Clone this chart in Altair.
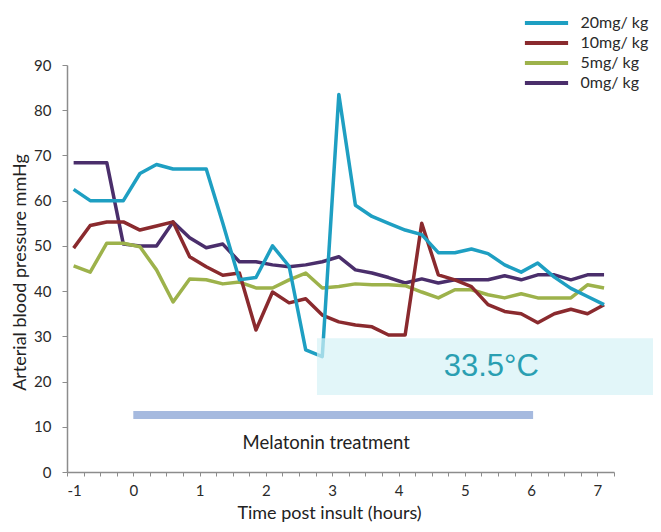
import altair as alt
import pandas as pd

# sample times (hours post insult)
times = [-0.9, -0.65, -0.4, -0.15, 0.1, 0.35, 0.6, 0.85, 1.1, 1.35, 1.6, 1.85,
         2.1, 2.35, 2.6, 2.85, 3.1, 3.35, 3.6, 3.85, 4.1, 4.35, 4.6, 4.85,
         5.1, 5.35, 5.6, 5.85, 6.1, 6.35, 6.6, 6.85, 7.1]

mg20 = [62.5, 60, 60, 60, 66, 68, 67, 67, 67, 55, 42.5, 43, 50, 45.5, 27, 25.5,
        83.5, 59, 56.5, 55, 53.5, 52.5, 48.5, 48.5, 49.3, 48.3, 45.8, 44.2, 46.2,
        43.1, 40.6, 38.8, 37]
mg10 = [49.5, 54.5, 55.3, 55.3, 53.5, 54.4, 55.3, 47.6, 45.4, 43.5, 44, 31.4,
        39.8, 37.4, 38.3, 34.7, 33.2, 32.5, 32.1, 30.3, 30.3, 55, 43.6, 42.5,
        41, 37, 35.5, 35, 33, 35, 36, 35, 37]
mg5 = [45.6, 44.2, 50.6, 50.6, 49.8, 44.7, 37.6, 42.7, 42.5, 41.6, 42, 40.7,
       40.7, 42.5, 44, 40.7, 41, 41.6, 41.4, 41.4, 41.2, 39.8, 38.5, 40.3,
       40.3, 39.2, 38.5, 39.4, 38.5, 38.5, 38.5, 41.4, 40.7]
mg0 = [68.4, 68.4, 68.4, 50.4, 50, 50, 55.3, 51.8, 49.6, 50.4, 46.5, 46.5,
       45.8, 45.4, 45.8, 46.5, 47.6, 44.7, 44, 43, 41.8, 42.7, 41.8, 42.5,
       42.5, 42.5, 43.4, 42.5, 43.6, 43.6, 42.5, 43.6, 43.6]

series_names = ["20mg/ kg", "10mg/ kg", "5mg/ kg", "0mg/ kg"]
series_colors = ["#1E9FC2", "#8A2A2E", "#9DB24B", "#4A2E6B"]

x_ticks = [-1, -0.75, -0.5, -0.25, 0, 0.25, 0.5, 0.75, 1, 1.25, 1.5, 1.75,
           2, 2.25, 2.5, 2.75, 3, 3.25, 3.5, 3.75, 4, 4.25, 4.5, 4.75,
           5, 5.25, 5.5, 5.75, 6, 6.25, 6.5, 6.75, 7, 7.25]
y_ticks = [0, 10, 20, 30, 40, 50, 60, 70, 80, 90]

# annotations
cool_zone = {"x": 2.77, "x2": 8.0, "y": 17.0, "y2": 29.6}
cool_label = {"x": 5.4, "y": 23.2, "text": "33.5°C"}
treatment = {"x": 0.0, "x2": 6.03, "y": 12.6}
treatment_label = {"x": 2.91, "y": 6.4, "text": "Melatonin treatment"}

rows = []
for name, vals in [("0mg/ kg", mg0), ("5mg/ kg", mg5), ("10mg/ kg", mg10), ("20mg/ kg", mg20)]:
    for t, v in zip(times, vals):
        rows.append({"time": t, "value": v, "series": name})
df = pd.DataFrame(rows)

XD = [-1, 7.25]
YD = [0, 90]
FONT = "Lato"

xs = alt.Scale(domain=XD, nice=False, zero=False)
ys = alt.Scale(domain=YD, nice=False, zero=False)

x_axis = alt.Axis(
    values=x_ticks,
    labelExpr="datum.value % 1 == 0 ? '' + datum.value : ''",
    labelOverlap=False, grid=False,
    domainColor="#8c8c8c", domainWidth=1.5, tickColor="#8c8c8c",
    tickSize=4, tickWidth=1, labelFont=FONT, labelFontSize=15,
    labelColor="#2a2a2a", labelPadding=7,
    title="Time post insult (hours)", titleFont=FONT, titleFontSize=18,
    titleFontWeight="normal", titleColor="#222222",
    titleX=262, titleY=41, titleBaseline="middle")
y_axis = alt.Axis(
    values=y_ticks, grid=False,
    domainColor="#8c8c8c", domainWidth=1.5, tickColor="#8c8c8c",
    tickSize=5, tickWidth=1, labelFont=FONT, labelFontSize=15,
    labelColor="#2a2a2a", labelPadding=11,
    title="Arterial blood pressure mmHg", titleFont=FONT, titleFontSize=18,
    titleFontWeight="normal", titleColor="#222222",
    titleX=-47, titleY=207, titleBaseline="middle")

lines = alt.Chart(df).mark_line(strokeWidth=3.5, strokeJoin="round").encode(
    x=alt.X("time:Q", scale=xs, axis=x_axis),
    y=alt.Y("value:Q", scale=ys, axis=y_axis),
    color=alt.Color("series:N", scale=alt.Scale(domain=series_names, range=series_colors),
                    legend=alt.Legend(
                        title=None, orient="none", legendX=471.5, legendY=-50,
                        symbolType="M-5.4,0L5.4,0", symbolSize=64, symbolStrokeWidth=4,
                        symbolOffset=0, labelOffset=26, rowPadding=4, padding=0,
                        labelFont=FONT, labelFontSize=16, labelColor="#2a2a2a")),
    detail="series:N",
)

zone = alt.Chart(pd.DataFrame([cool_zone])).mark_rect(
    fill="#D6F2F7", opacity=0.7).encode(
    x=alt.X("x:Q", scale=xs, axis=x_axis), x2="x2:Q",
    y=alt.Y("y:Q", scale=ys, axis=y_axis), y2="y2:Q")

zone_text = alt.Chart(pd.DataFrame([cool_label])).mark_text(
    font="Liberation Sans", fontSize=31, color="#2A9FB2", align="center",
    baseline="middle").encode(
    x=alt.X("x:Q", scale=xs, axis=x_axis), y=alt.Y("y:Q", scale=ys, axis=y_axis),
    text="text:N")

treat_bar = alt.Chart(pd.DataFrame([treatment])).mark_rule(
    strokeWidth=8, color="#A6BADF", strokeCap="butt").encode(
    x=alt.X("x:Q", scale=xs, axis=x_axis), x2="x2:Q",
    y=alt.Y("y:Q", scale=ys, axis=y_axis))

treat_text = alt.Chart(pd.DataFrame([treatment_label])).mark_text(
    font=FONT, fontSize=18.5, color="#222222", align="center",
    baseline="middle").encode(
    x=alt.X("x:Q", scale=xs, axis=x_axis), y=alt.Y("y:Q", scale=ys, axis=y_axis),
    text="text:N")

chart = alt.layer(lines, zone, zone_text, treat_bar, treat_text).properties(
    width=547, height=407,
    autosize=alt.AutoSizeParams(type="none"),
    padding={"left": 59, "top": 57, "right": 39, "bottom": 52},
    background="white",
).configure_view(stroke=None)

chart.save("out.html", embed_options={"renderer": "svg", "actions": False})
